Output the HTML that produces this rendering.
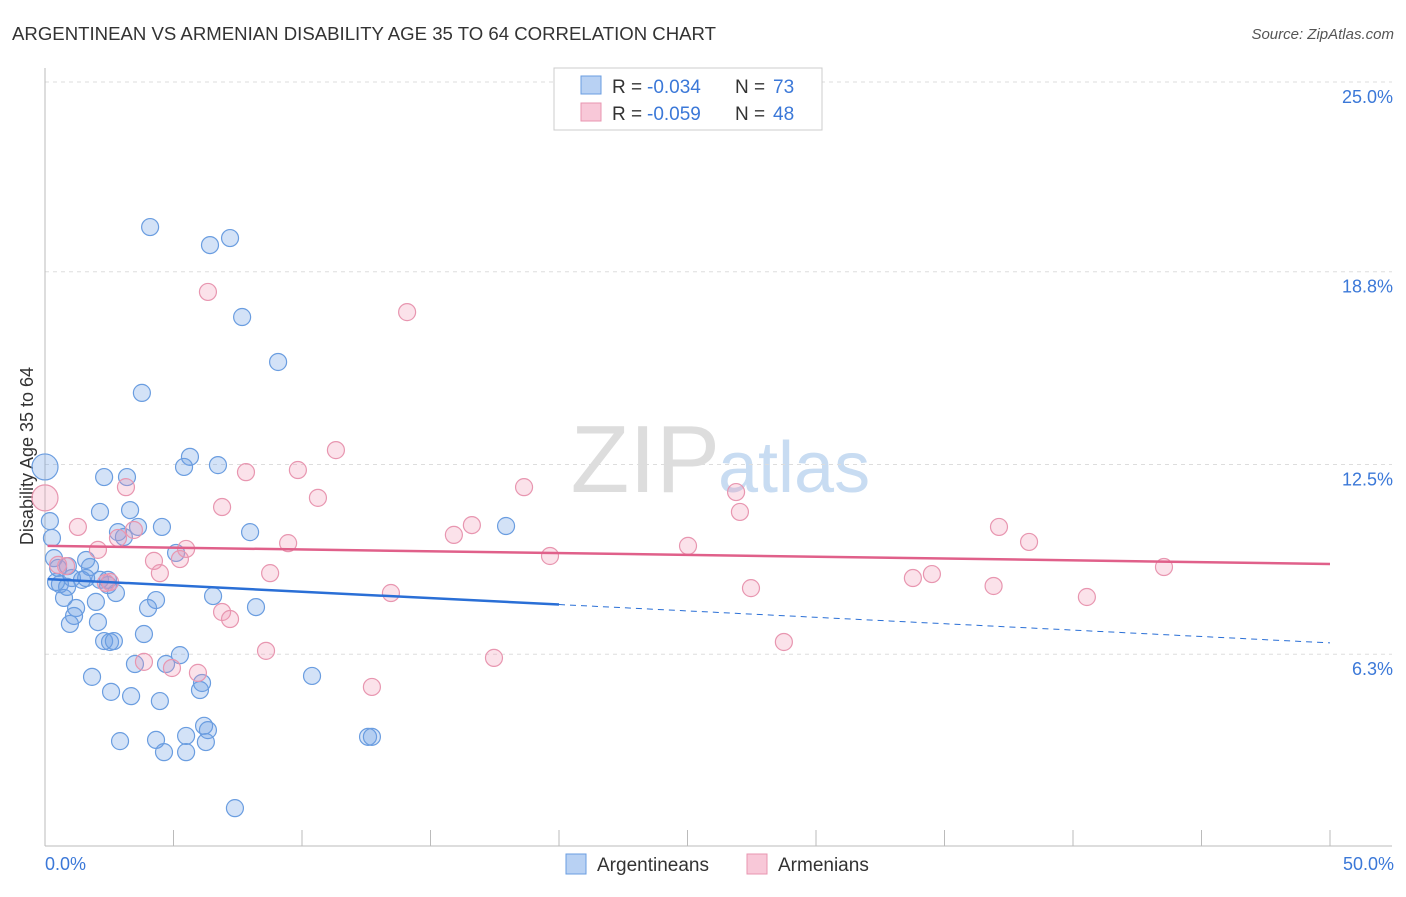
<!DOCTYPE html>
<html><head><meta charset="utf-8"><style>
body{margin:0;background:#fff;font-family:"Liberation Sans",sans-serif;}
svg text{font-family:"Liberation Sans",sans-serif;}
</style></head><body>
<svg width="1406" height="892" xmlns="http://www.w3.org/2000/svg">
<text x="12" y="40" font-size="18.6" fill="#333">ARGENTINEAN VS ARMENIAN DISABILITY AGE 35 TO 64 CORRELATION CHART</text>
<text x="1394" y="39" font-size="15" fill="#555" text-anchor="end" font-style="italic">Source: ZipAtlas.com</text>
<text x="720" y="492" font-size="96" fill="#ddd" text-anchor="end" font-family="Liberation Serif">ZIP</text>
<text x="718" y="492" font-size="72" fill="#c8dcf2">atlas</text>
<g id="grid"></g>
<line x1="45" y1="68" x2="45" y2="846" stroke="#bbb"/>
<line x1="45" y1="846" x2="1392" y2="846" stroke="#bbb"/>
<text transform="translate(33,456) rotate(-90)" font-size="18" fill="#333" text-anchor="middle">Disability Age 35 to 64</text>
<text x="45" y="870" font-size="18" fill="#3b78d8">0.0%</text>
<text x="1394" y="870" font-size="18" fill="#3b78d8" text-anchor="end">50.0%</text>
<g id="marks"></g>
<g>
<rect x="554" y="68" width="268" height="62" fill="#fff" stroke="#ccc"/>
<rect x="581" y="76" width="20" height="18" fill="#b8d1f3" stroke="#6a9de0"/>
<text x="612" y="93" font-size="19" fill="#333">R =</text>
<text x="647" y="93" font-size="19" fill="#3b78d8">-0.034</text>
<text x="735" y="93" font-size="19" fill="#333">N =</text>
<text x="773" y="93" font-size="19" fill="#3b78d8">73</text>
<rect x="581" y="103" width="20" height="18" fill="#f8c8d8" stroke="#e896b0"/>
<text x="612" y="120" font-size="19" fill="#333">R =</text>
<text x="647" y="120" font-size="19" fill="#3b78d8">-0.059</text>
<text x="735" y="120" font-size="19" fill="#333">N =</text>
<text x="773" y="120" font-size="19" fill="#3b78d8">48</text>
</g>
<g>
<rect x="566" y="854" width="20" height="20" fill="#b8d1f3" stroke="#6a9de0"/>
<text x="597" y="871" font-size="19" fill="#333">Argentineans</text>
<rect x="747" y="854" width="20" height="20" fill="#f8c8d8" stroke="#e896b0"/>
<text x="778" y="871" font-size="19" fill="#333">Armenians</text>
</g>
</svg>
<script>
const yTicks=[25.0,18.8,12.5,6.3];
const yTickLabels=["25.0%","18.8%","12.5%","6.3%"];
const xTicks=[0,5,10,15,20,25,30,35,40,45,50];
const blueX=[4.09,6.42,7.2,7.67,9.07,3.77,5.64,5.41,6.73,2.3,3.19,0,0.19,0.27,2.14,3.31,2.84,3.62,4.55,3.07,7.98,17.94,0.35,0.51,0.89,1.75,1.6,0.58,1.05,1.44,2.14,2.45,2.76,0.74,1.21,1.98,4.32,4.01,1.13,0.97,2.06,6.54,8.21,3.85,2.3,2.53,2.68,5.25,3.5,4.71,1.83,6.03,6.11,10.39,2.57,3.35,4.47,6.19,6.34,2.92,4.32,5.49,6.26,4.63,5.49,12.57,12.72,7.39,5.1,0.86,1.6,2.45,0.43];
const blueY=[20.26,19.67,19.9,17.32,15.85,14.84,12.75,12.42,12.48,12.09,12.09,12.42,10.65,10.1,10.95,11.01,10.29,10.46,10.46,10.13,10.29,10.49,9.44,9.12,9.18,9.15,9.38,8.59,8.79,8.73,8.73,8.56,8.3,8.14,7.81,8.01,8.07,7.81,7.55,7.29,7.35,8.2,7.84,6.96,6.73,6.7,6.73,6.27,5.98,5.98,5.56,5.13,5.36,5.59,5.07,4.93,4.77,3.96,3.82,3.46,3.5,3.63,3.43,3.1,3.1,3.6,3.6,1.27,9.61,8.5,8.79,8.73,8.66];
const pinkX=[0,6.34,14.09,11.32,9.84,7.82,10.62,18.64,3.15,26.89,6.89,27.04,16.61,15.91,1.28,3.46,37.12,2.06,9.46,5.49,38.29,25.02,19.65,4.24,5.25,2.84,4.47,8.76,0.82,2.37,43.54,34.51,33.77,36.91,27.47,13.46,40.54,6.89,7.2,8.6,28.75,17.47,3.85,5.95,4.94,12.72,2.53,0.51];
const pinkY=[11.41,18.14,17.48,12.97,12.32,12.25,11.41,11.76,11.76,11.6,11.11,10.95,10.52,10.2,10.46,10.36,10.46,9.71,9.93,9.74,9.97,9.84,9.51,9.35,9.41,10.1,8.95,8.95,9.18,8.63,9.15,8.92,8.79,8.53,8.46,8.3,8.17,7.68,7.45,6.41,6.7,6.18,6.05,5.69,5.85,5.23,8.66,9.22];
const blueTrend=[8.76,6.67];
const pinkTrend=[9.84,9.25];
const sx=v=>45+v*25.7, sy=v=>82+(25-v)*30.6;
const NS="http://www.w3.org/2000/svg";
function mk(t,a,p){const e=document.createElementNS(NS,t);for(const k in a)e.setAttribute(k,a[k]);p.appendChild(e);return e;}
const grid=document.getElementById('grid'),marks=document.getElementById('marks');
yTicks.forEach((t,i)=>{
 const l=mk('line',{x1:45,x2:1392,y1:sy(t),y2:sy(t),stroke:'#ddd','stroke-dasharray':'4,4'},grid);
 
 
 const tx=mk('text',{x:1393,y:sy(t)+21,'font-size':18,fill:'#3b78d8','text-anchor':'end'},grid);
 tx.textContent=yTickLabels[i];
 
 
});
xTicks.forEach(t=>{
 const l=mk('line',{x1:sx(t),x2:sx(t),y1:830,y2:846,stroke:'#bbb'},grid);
 
 
});
function pts(X,Y,fill,stroke,name){X.forEach((x,i)=>{
 const r=(x===0)?13:8.5;
 const c=mk('circle',{cx:sx(x),cy:sy(Y[i]),r:r,fill:fill,stroke:stroke,'stroke-width':1.2},marks);
 
 
});}
pts(blueX,blueY,'rgba(110,160,230,0.3)','#6a9de0','argentinean-point');
pts(pinkX,pinkY,'rgba(240,150,180,0.28)','#e896b0','armenian-point');
const by=x=>blueTrend[0]+(blueTrend[1]-blueTrend[0])*x/50;
let l=mk('line',{x1:sx(0.1),y1:sy(by(0.1)),x2:sx(20),y2:sy(by(20)),stroke:'#2a6fd6','stroke-width':2.5},marks);


l=mk('line',{x1:sx(20),y1:sy(by(20)),x2:sx(50),y2:sy(by(50)),stroke:'#2a6fd6','stroke-width':1,'stroke-dasharray':'6,5'},marks);


l=mk('line',{x1:sx(0.1),y1:sy(pinkTrend[0]),x2:sx(50),y2:sy(pinkTrend[1]),stroke:'#e0608a','stroke-width':2.5},marks);


</script>
</body></html>
